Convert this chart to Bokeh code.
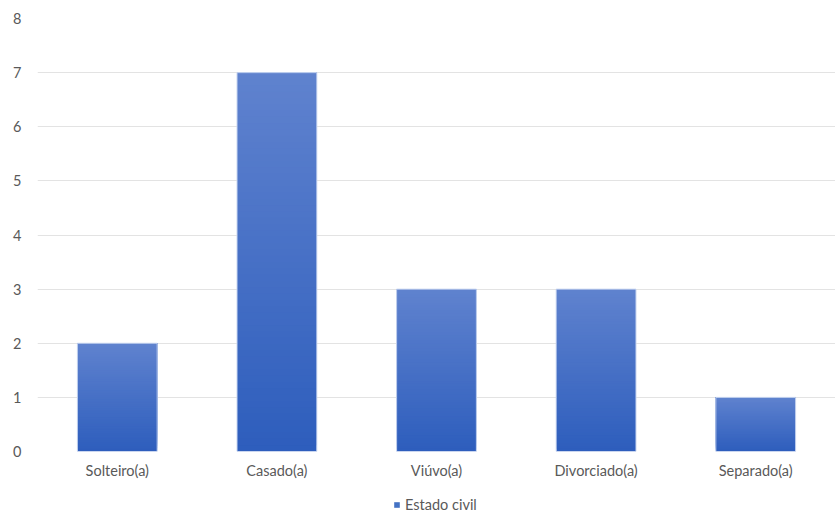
from bokeh.plotting import figure
from bokeh.layouts import column
from bokeh.models import FixedTicker, Legend, LegendItem, ColumnDataSource
from bokeh.embed import file_html
from bokeh.resources import INLINE

categories = ["Solteiro(a)", "Casado(a)", "Viúvo(a)", "Divorciado(a)", "Separado(a)"]
values = [2, 7, 3, 3, 1]
y_ticks = [0, 1, 2, 3, 4, 5, 6, 7, 8]
series_name = "Estado civil"

FONT = "Lato"
FONT_SIZE = "14.5px"
TEXT_COLOR = "#595959"
TOP = (96, 131, 207)
BOTTOM = (46, 94, 189)
N = 60

p = figure(x_range=categories, y_range=(0, 8), width=835, height=483,
           output_backend="svg", toolbar_location=None,
           min_border_left=37, min_border_right=0, min_border_top=18, min_border_bottom=32)
p.outline_line_color = None
p.background_fill_color = "white"

# gradient: each slice runs from its own level up to the bar's value (no seams)
xs, bots, tops, cols = [], [], [], []
for c, v in zip(categories, values):
    for i in range(N):
        t = (i + 0.5) / N
        r = int(BOTTOM[0] + (TOP[0] - BOTTOM[0]) * t)
        g = int(BOTTOM[1] + (TOP[1] - BOTTOM[1]) * t)
        b = int(BOTTOM[2] + (TOP[2] - BOTTOM[2]) * t)
        xs.append(c)
        bots.append(v * i / N)
        tops.append(v)
        cols.append("#%02x%02x%02x" % (r, g, b))
src = ColumnDataSource(dict(x=xs, bottom=bots, top=tops, color=cols))
p.vbar(x="x", bottom="bottom", top="top", width=0.5, source=src,
       fill_color="color", line_color=None)
p.vbar(x=categories, top=values, width=0.5, fill_alpha=0.0,
       line_color="#c9d6f0", line_width=1)

p.yaxis.ticker = FixedTicker(ticks=y_ticks)
p.ygrid.ticker = FixedTicker(ticks=y_ticks)
p.ygrid.grid_line_color = "#e3e3e3"
p.xgrid.grid_line_color = None
for ax in (p.xaxis, p.yaxis):
    ax.axis_line_color = None
    ax.major_tick_line_color = None
    ax.minor_tick_line_color = None
    ax.major_tick_out = 0
    ax.minor_tick_out = 0
    ax.major_label_text_font = FONT
    ax.major_label_text_font_size = FONT_SIZE
    ax.major_label_text_color = TEXT_COLOR
p.yaxis.major_label_standoff = 16
p.xaxis.major_label_standoff = 10

# legend strip below the chart
pl = figure(width=835, height=30, x_range=(0, 1), y_range=(0, 1),
            output_backend="svg", toolbar_location=None,
            min_border_left=0, min_border_right=0, min_border_top=0, min_border_bottom=0)
pl.axis.visible = False
pl.grid.visible = False
pl.outline_line_color = None
dummy = pl.quad(left=[-5], right=[-4], bottom=[-5], top=[-4],
                fill_color="#4472c4", line_color=None)
legend = Legend(items=[LegendItem(label=series_name, renderers=[dummy])],
                orientation="horizontal", location=(356, 0),
                label_text_font=FONT, label_text_font_size=FONT_SIZE,
                label_text_color=TEXT_COLOR, glyph_width=7, glyph_height=7,
                label_standoff=5, border_line_color=None, padding=2, margin=0,
                background_fill_alpha=0)
pl.add_layout(legend)

layout = column(p, pl, spacing=0)
open("out.html", "w").write(file_html(layout, INLINE))
